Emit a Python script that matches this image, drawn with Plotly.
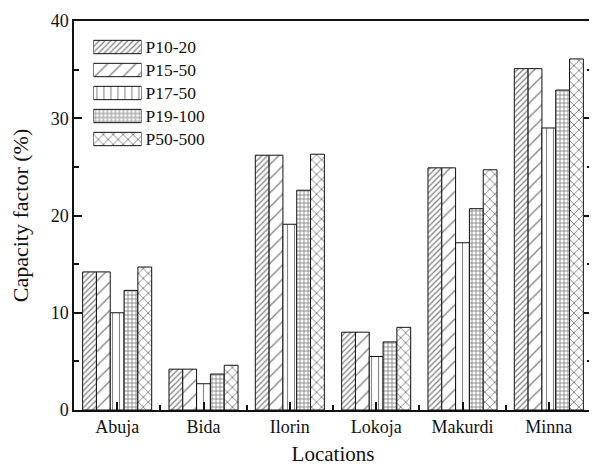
import plotly.graph_objects as go

locations = ["Abuja", "Bida", "Ilorin", "Lokoja", "Makurdi", "Minna"]
series_names = ["P10-20", "P15-50", "P17-50", "P19-100", "P50-500"]
p10_20 = [14.2, 4.2, 26.2, 8.0, 24.9, 35.1]
p15_50 = [14.2, 4.2, 26.2, 8.0, 24.9, 35.1]
p17_50 = [10.0, 2.7, 19.1, 5.5, 17.2, 29.0]
p19_100 = [12.3, 3.7, 22.6, 7.0, 20.7, 32.9]
p50_500 = [14.7, 4.6, 26.3, 8.5, 24.7, 36.1]
y_ticks = [0, 10, 20, 30, 40]

series_values = [p10_20, p15_50, p17_50, p19_100, p50_500]
patterns = [
    dict(shape="/", size=4, solidity=0.35),
    dict(shape="/", size=10, solidity=0.14),
    dict(shape="|", size=7, solidity=0.16),
    dict(shape="+", size=4, solidity=0.4),
    dict(shape="x", size=7, solidity=0.26),
]
ink = "#111111"

x_idx = list(range(len(locations)))
fig = go.Figure()
for name, vals, pat in zip(series_names, series_values, patterns):
    fig.add_trace(go.Bar(
        x=x_idx, y=vals, name=name, showlegend=False,
        marker=dict(color="white", line=dict(color=ink, width=1),
                    pattern=dict(fgcolor=ink, bgcolor="white", fillmode="overlay", **pat)),
    ))

# legend swatches: wide hatched boxes drawn on a small inset axis
for name, pat in zip(series_names, patterns):
    fig.add_trace(go.Bar(
        x=[1], y=[name], orientation="h", xaxis="x2", yaxis="y2", showlegend=False,
        hoverinfo="skip", width=0.58,
        marker=dict(color="white", line=dict(color=ink, width=1),
                    pattern=dict(fgcolor=ink, bgcolor="white", fillmode="overlay", **pat)),
    ))

font = "Liberation Serif, Times New Roman, serif"
# page offset of 8px (body margin) compensated in width/height/margins
fig.update_layout(
    width=589, height=458,
    margin=dict(l=66, r=5, t=13, b=56, autoexpand=False),
    paper_bgcolor="white", plot_bgcolor="white",
    barmode="group", bargap=0.2, bargroupgap=0,
    font=dict(family=font, size=18, color=ink),
    showlegend=False,
    xaxis=dict(range=[-0.5, len(locations) - 0.5], tickmode="array", tickvals=x_idx,
               ticktext=locations, ticks="inside", ticklen=8, tickwidth=1.5, tickcolor=ink,
               minor=dict(tickmode="linear", tick0=0.5, dtick=1, ticks="inside", ticklen=5, tickwidth=1.5, tickcolor=ink),
               showline=True, linecolor=ink, linewidth=1.5, mirror=True, showgrid=False, zeroline=False,
               title=dict(text="Locations", font=dict(family=font, size=21), standoff=15),
               tickfont=dict(family=font, size=18), automargin=False),
    yaxis=dict(range=[0, 40], tickmode="array", tickvals=y_ticks, ticks="inside", ticklen=8, tickwidth=1.5,
               tickcolor=ink,
               minor=dict(tickmode="linear", tick0=5, dtick=10, ticks="inside", ticklen=5, tickwidth=1.5, tickcolor=ink),
               showline=True, linecolor=ink, linewidth=1.5, mirror="ticks", showgrid=False, zeroline=False,
               title=dict(text="Capacity factor (%)", font=dict(family=font, size=22), standoff=16),
               tickfont=dict(family=font, size=18), automargin=False),
    xaxis2=dict(domain=[0.0375, 0.1303], range=[0, 1], anchor="y2", visible=False, fixedrange=True),
    yaxis2=dict(domain=[0.6671, 0.9627], anchor="x2", type="category", autorange="reversed",
                tickmode="array", tickvals=series_names, ticktext=series_names,
                side="right", showline=False, ticks="", showgrid=False, zeroline=False,
                tickfont=dict(family=font, size=17.5), ticklabelstandoff=3, fixedrange=True),
)
fig.write_html("out.html")
